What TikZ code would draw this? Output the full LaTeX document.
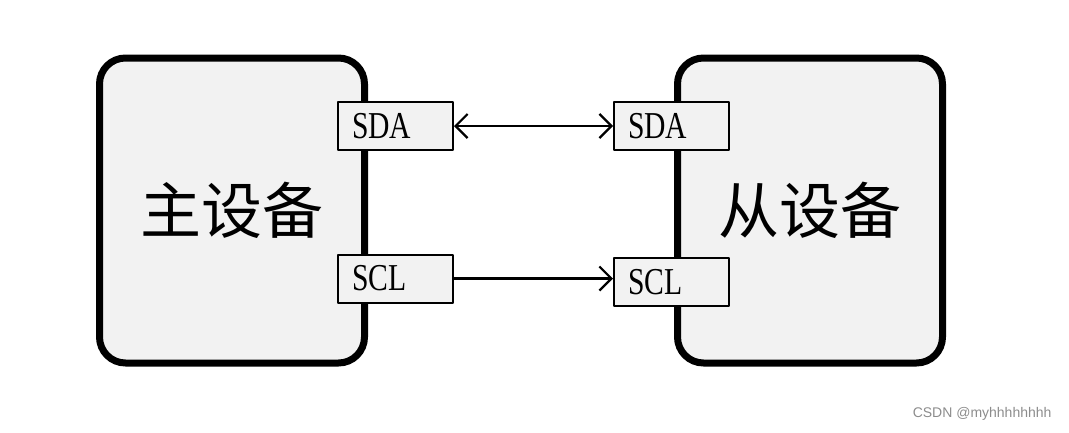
\documentclass[tikz,border=0pt]{standalone}
\usepackage{fontspec}
\setmainfont{Liberation Serif}
\newfontfamily\cjkfont{Noto Sans CJK SC}
\newfontfamily\narrowfont[FakeStretch=0.78]{Liberation Serif}
\newfontfamily\markfont{Liberation Sans}
\usetikzlibrary{arrows.meta}

\tikzset{
  barb/.tip={Straight Barb[length=12pt, width=24pt, line width=2.2pt]},
  device/.style={draw, line width=7pt, rounded corners=26pt, fill=black!5,
    minimum width=265pt, minimum height=305pt, inner sep=0pt,
    font=\cjkfont\fontsize{61}{61}\selectfont},
  pin/.style={draw, line width=2pt, fill=black!5, inner ysep=0pt, inner xsep=14pt,
    text width=87pt, align=left, minimum height=48pt,
    font=\narrowfont\fontsize{38}{38}\selectfont},
  wire/.style={line width=2.2pt, -barb}
}

\begin{document}
\begin{tikzpicture}[x=1pt, y=-1pt, line cap=round, line join=round]
  \useasboundingbox (0,0) rectangle (1069,432);

  % i due dispositivi
  \node[device] (master) at (232,210.5) {主设备};
  \node[device] (slave) at (810,210.5) {从设备};

  % piedini SDA e SCL
  \node[pin] (msda) at (395.5,126) {SDA};
  \node[pin] (mscl) at (395.5,278.5) {SCL};
  \node[pin] (ssda) at (671.5,126) {SDA};
  \node[pin] (sscl) at (671.5,282) {SCL};

  % collegamenti
  \draw[wire, barb-barb] (msda.east) -- (ssda.west);
  \draw[wire] (mscl.east) -- (mscl.east -| sscl.west);

  % filigrana
  \node[text=black!45, font=\markfont\fontsize{14}{14}\selectfont, anchor=east] (mark) at (1055,414) {CSDN @myhhhhhhhh};
\end{tikzpicture}
\end{document}
